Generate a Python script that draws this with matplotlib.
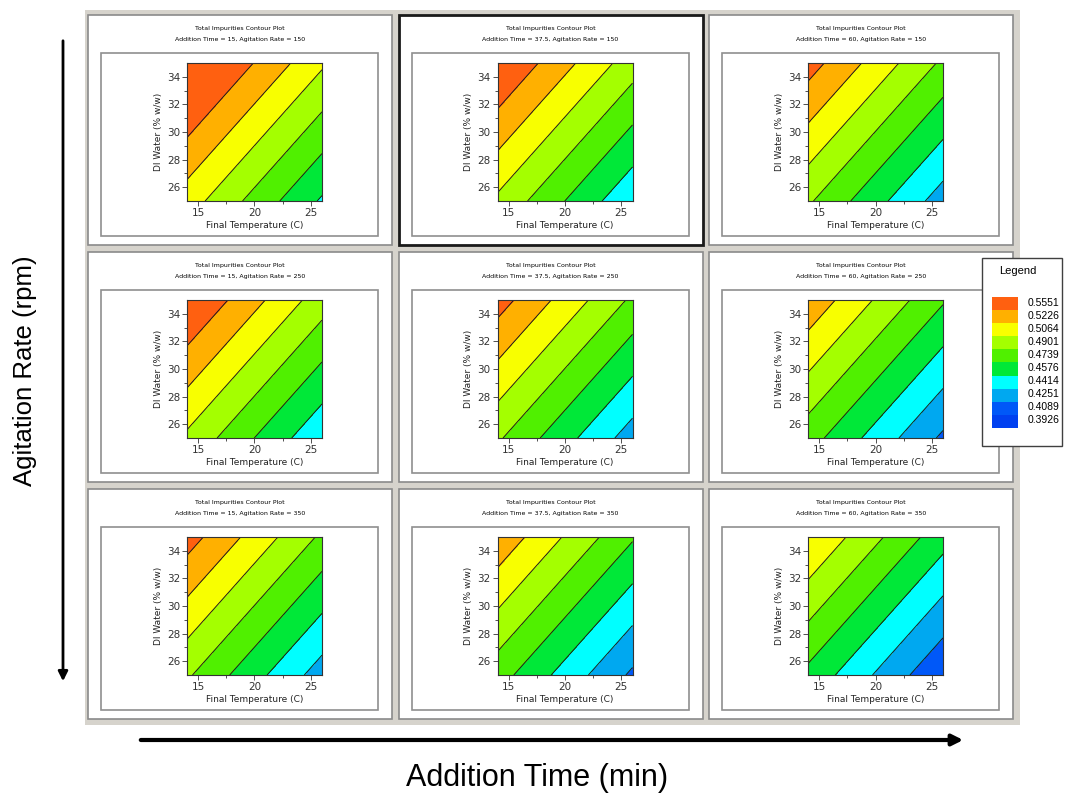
import matplotlib
matplotlib.use("Agg")
import matplotlib.pyplot as plt
from matplotlib.patches import Rectangle, FancyArrowPatch

# grid of panels: rows = agitation rate, columns = addition time
addition_times = ["15", "37.5", "60"]
agitation_rates = ["150", "250", "350"]

# axis ranges of every small contour plot
temp_edges = [14, 26]
water_edges = [25, 35]

# impurity read at the four corners of each panel (rows = agitation rate, cols = addition time)
z_cold_dry = [[0.5143, 0.5032, 0.4925], [0.5032, 0.4925, 0.4810], [0.4925, 0.4810, 0.4695]]
z_hot_dry = [[0.4555, 0.4444, 0.4337], [0.4444, 0.4337, 0.4222], [0.4337, 0.4222, 0.4107]]
z_cold_wet = [[0.5678, 0.5567, 0.5460], [0.5567, 0.5460, 0.5345], [0.5460, 0.5345, 0.5230]]
z_hot_wet = [[0.5090, 0.4979, 0.4872], [0.4979, 0.4872, 0.4757], [0.4872, 0.4757, 0.4642]]

# band edges (low to high) and the colour of each band
band_edges = [0.0, 0.4089, 0.4251, 0.4414, 0.4576, 0.4739, 0.4901, 0.5064, 0.5226, 0.5389, 1.0]
band_colors = ["#0040F0", "#0058F8", "#00A8F0", "#00FFFF", "#00E838",
               "#50F000", "#A4FF00", "#F8FF00", "#FFB000", "#FF6010"]
legend_labels = ["0.5551", "0.5226", "0.5064", "0.4901", "0.4739",
                 "0.4576", "0.4414", "0.4251", "0.4089", "0.3926"]

W, H = 1065, 794


def rect(x0, y0, x1, y1):
    return [x0 / W, 1 - y1 / H, (x1 - x0) / W, (y1 - y0) / H]


def add_box(fig, x0, y0, x1, y1, face, edge="none", lw=1.0):
    fig.patches.append(Rectangle((x0 / W, 1 - y1 / H), (x1 - x0) / W, (y1 - y0) / H,
                                 transform=fig.transFigure, facecolor=face,
                                 edgecolor=edge, linewidth=lw, zorder=-5))


fig = plt.figure(figsize=(W / 100, H / 100), dpi=100)
add_box(fig, 85, 10, 1020, 725, "#D6D3CC")

for r, rate in enumerate(agitation_rates):
    for c, atime in enumerate(addition_times):
        dx = c * 310.5
        dy = r * 237
        selected = (r == 0 and c == 1)
        add_box(fig, 88 + dx, 15 + dy, 392 + dx, 245 + dy, "white",
                "#1a1a1a" if selected else "#8a8a8a", 2.0 if selected else 1.2)
        add_box(fig, 101 + dx, 53 + dy, 378 + dx, 236 + dy, "white", "#8f8f8f", 1.2)
        fig.text((240 + dx) / W, 1 - (28.5 + dy) / H, "Total Impurities Contour Plot",
                 ha="center", va="center", fontsize=4.5)
        fig.text((240 + dx) / W, 1 - (39.5 + dy) / H,
                 f"Addition Time = {atime}, Agitation Rate = {rate}",
                 ha="center", va="center", fontsize=4.5)

        ax = fig.add_axes(rect(187 + dx, 63 + dy, 322 + dx, 201 + dy))
        z = [[z_cold_dry[r][c], z_hot_dry[r][c]], [z_cold_wet[r][c], z_hot_wet[r][c]]]
        ax.contourf(temp_edges, water_edges, z, levels=band_edges, colors=band_colors)
        ax.contour(temp_edges, water_edges, z, levels=band_edges[1:-1],
                   colors="#1a1a1a", linewidths=0.7)
        ax.set_xlim(temp_edges)
        ax.set_ylim(water_edges)
        ax.set_xticks([15, 20, 25])
        ax.set_xticks([17.5, 22.5], minor=True)
        ax.set_yticks([26, 28, 30, 32, 34])
        ax.set_yticks([27, 29, 31, 33], minor=True)
        ax.tick_params(which="major", direction="out", length=3.5, width=0.6,
                       labelsize=7.5, pad=1.5, colors="#333333")
        ax.tick_params(which="minor", direction="out", length=2, width=0.6, colors="#333333")
        for spine in ax.spines.values():
            spine.set_color("#333333")
            spine.set_linewidth(0.8)
        ax.set_xlabel("Final Temperature (C)", fontsize=6.5, labelpad=2, color="#222222")
        ax.set_ylabel("DI Water (% w/w)", fontsize=6.5, labelpad=3, color="#222222")

# legend
add_box(fig, 982, 258, 1062, 446, "white", "#404040", 1.0)
fig.text(1018 / W, 1 - 271 / H, "Legend", ha="center", va="center", fontsize=8,
         family="Liberation Sans")
step = 13.1
for i, label in enumerate(legend_labels):
    top = 297 + i * step
    add_box(fig, 992, top, 1018, top + step, band_colors[len(band_colors) - 1 - i])
    fig.text(1028 / W, 1 - (top + step / 2 - 1) / H, label, ha="left", va="center",
             fontsize=7.5, family="Liberation Sans")

# direction arrows and their labels
fig.add_artist(FancyArrowPatch((63 / W, 1 - 38 / H), (63 / W, 1 - 684 / H),
                               transform=fig.transFigure, arrowstyle="-|>",
                               mutation_scale=14, linewidth=2, color="black"))
fig.add_artist(FancyArrowPatch((138 / W, 1 - 740 / H), (966 / W, 1 - 740 / H),
                               transform=fig.transFigure, arrowstyle="-|>",
                               mutation_scale=16, linewidth=3, color="black"))
fig.text(25 / W, 1 - 371 / H, "Agitation Rate (rpm)", rotation=90, ha="center",
         va="center", fontsize=18.5, family="Liberation Sans")
fig.text(537 / W, 1 - 778 / H, "Addition Time (min)", ha="center", va="center",
         fontsize=22, family="Liberation Sans")

fig.savefig("out.png", dpi=100)
